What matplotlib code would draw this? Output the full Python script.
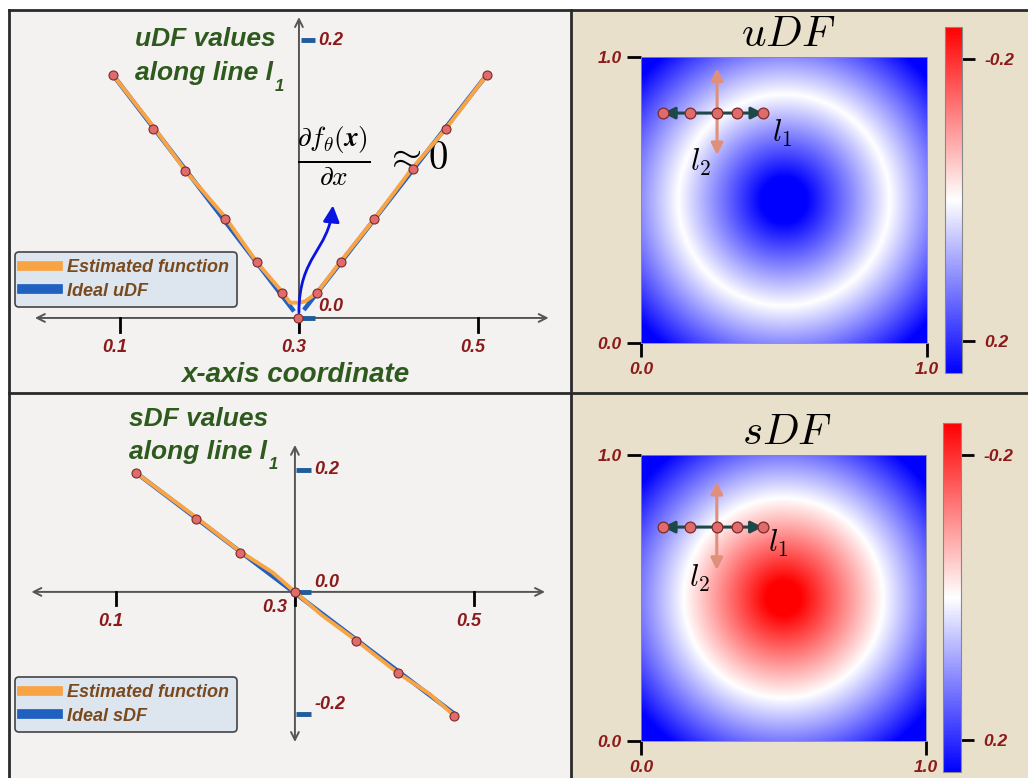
import numpy as np
import matplotlib.pyplot as plt
import matplotlib as mpl
from matplotlib.path import Path
from matplotlib.patches import FancyArrowPatch, Rectangle
from matplotlib.lines import Line2D

plt.rcParams['font.family'] = ['Liberation Sans', 'DejaVu Sans']
plt.rcParams['mathtext.fontset'] = 'cm'

# --- datos: uDF a lo largo de la linea l1 ---
u_pts_x = [0.092, 0.137, 0.173, 0.217, 0.253, 0.281, 0.299, 0.320, 0.347, 0.384, 0.427, 0.464, 0.510]
u_pts_y = [0.175, 0.136, 0.106, 0.071, 0.040, 0.018, 0.000, 0.018, 0.040, 0.071, 0.107, 0.136, 0.175]
u_est_x = [0.092, 0.137, 0.173, 0.217, 0.253, 0.281, 0.290, 0.301, 0.307, 0.320, 0.347, 0.384, 0.427, 0.464, 0.510]
u_est_y = [0.175, 0.138, 0.106, 0.073, 0.040, 0.019, 0.011, 0.011, 0.012, 0.018, 0.041, 0.071, 0.108, 0.136, 0.175]
u_ideal_lx = [0.092, 0.293]
u_ideal_ly = [0.175, 0.006]
u_ideal_rx = [0.307, 0.510]
u_ideal_ry = [0.007, 0.175]

# --- datos: sDF a lo largo de la linea l1 ---
s_pts_x = [0.123, 0.190, 0.239, 0.300, 0.368, 0.415, 0.478]
s_pts_y = [0.195, 0.120, 0.064, 0.000, -0.080, -0.133, -0.203]
s_est_x = [0.123, 0.190, 0.239, 0.275, 0.300, 0.330, 0.368, 0.415, 0.450, 0.478]
s_est_y = [0.195, 0.122, 0.066, 0.032, 0.000, -0.038, -0.079, -0.133, -0.167, -0.203]
s_ideal_x = [0.123, 0.478]
s_ideal_y = [0.195, -0.200]

x_ticks = [0.1, 0.3, 0.5]
x_tick_labels = ['0.1', '0.3', '0.5']

# --- mapas de distancia (circulo) ---
center = (0.5, 0.5)
u_radius = 0.37
s_radius = 0.35
l1_x = [0.077, 0.171, 0.266, 0.336, 0.427]
cbar_ticks = [-0.2, 0.2]
vlim = 0.245      # rango de la barra de color
vlim_img = 0.29   # rango usado para pintar el mapa (mas suave)

# --- colores ---
C_EST = '#f9a444'
C_IDEAL = '#2060c0'
C_PT = '#e06b6b'
C_PT_EDGE = '#7a2a2a'
C_TICK = '#8b1a1a'
C_TITLE = '#2e5a1e'
C_LEG = '#7a4a1e'
C_LEFT_BG = '#f4f1f1'
C_RIGHT_BG = '#e9e0cb'

W, H = 1028, 778


def fig_box(x0, y0, x1, y1):
    return [x0 / W, 1 - y1 / H, (x1 - x0) / W, (y1 - y0) / H]


tick_kw = dict(color=C_TICK, fontsize=13, fontweight='bold', fontstyle='italic')
title_kw = dict(color=C_TITLE, fontsize=19, fontweight='bold', fontstyle='italic')

fig = plt.figure(figsize=(W / 100, H / 100), dpi=100, facecolor='white')

# fondos de los paneles
for (x0, y0, x1, y1, c) in [(9, 10, 571, 393, C_LEFT_BG), (9, 393, 571, 778, C_LEFT_BG),
                            (571, 10, 1028, 393, C_RIGHT_BG), (571, 393, 1028, 778, C_RIGHT_BG)]:
    b = fig_box(x0, y0, x1, y1)
    fig.add_artist(Rectangle((b[0], b[1]), b[2], b[3], transform=fig.transFigure,
                             facecolor=c, edgecolor='none', zorder=0))
for (xs, ys) in [([9, 1028], [10, 10]), ([9, 9], [10, 778]), ([571, 571], [10, 778]), ([9, 1028], [393, 393])]:
    fig.add_artist(Line2D([x / W for x in xs], [1 - y / H for y in ys], transform=fig.transFigure,
                          color='#2a2a2a', lw=2, zorder=1))


def line_panel(ax, kind):
    # ejes con flechas
    arr = dict(color='#555555', lw=1.4, shrinkA=0, shrinkB=0, mutation_scale=14)
    if kind == 'u':
        ax.annotate('', xy=(0.579, 0), xytext=(0.005, 0), arrowprops=dict(arrowstyle='<->', **arr))
        ax.annotate('', xy=(0.3, 0.2165), xytext=(0.3, -0.011), arrowprops=dict(arrowstyle='->', **arr))
        tick_len = 0.010
        lab_y = -0.021
    else:
        ax.annotate('', xy=(0.579, 0), xytext=(0.006, 0), arrowprops=dict(arrowstyle='<->', **arr))
        ax.annotate('', xy=(0.3, 0.241), xytext=(0.3, -0.246), arrowprops=dict(arrowstyle='<->', **arr))
        tick_len = 0.022
        lab_y = -0.049
    for xv, lab in zip(x_ticks, x_tick_labels):
        ax.plot([xv, xv], [0, -tick_len], color='black', lw=2, zorder=3)
        if kind == 's' and lab == '0.3':
            ax.text(0.277, -0.026, lab, ha='center', va='center', **tick_kw)
        else:
            ax.text(xv - 0.006, lab_y, lab, ha='center', va='center', **tick_kw)


# --- panel superior izquierdo: uDF ---
ax1 = fig.add_axes(fig_box(9, 10, 571, 393))
ax1.set_xlim(-0.024, 0.604)
ax1.set_ylim(-0.054, 0.2216)
ax1.axis('off')
line_panel(ax1, 'u')
for yv, lab, ly in [(0.2, '0.2', 0.2), (0.0, '0.0', 0.008)]:
    ax1.plot([0.302, 0.318], [yv, yv], color='#1f5c99', lw=3.5, solid_capstyle='butt', zorder=3)
    ax1.text(0.322, ly, lab, ha='left', va='center', **tick_kw)
ax1.plot(u_ideal_lx, u_ideal_ly, color=C_IDEAL, lw=3.2, zorder=4)
ax1.plot(u_ideal_rx, u_ideal_ry, color=C_IDEAL, lw=3.2, zorder=4)
ax1.plot(u_est_x, u_est_y, color=C_EST, lw=2.8, zorder=5)
ax1.scatter(u_pts_x, u_pts_y, s=42, color=C_PT, edgecolor=C_PT_EDGE, linewidth=0.8, zorder=7)

# flecha de la derivada
verts = [(0.3, 0.004), (0.3, 0.045), (0.333, 0.048), (0.338, 0.081)]
codes = [Path.MOVETO, Path.CURVE4, Path.CURVE4, Path.CURVE4]
ax1.add_patch(FancyArrowPatch(path=Path(verts, codes), arrowstyle='-|>,head_length=0.7,head_width=0.35',
                              mutation_scale=14, color='#0a14e0', lw=2.0, zorder=6))
ax1.text(0.382, 0.117, r'$\frac{\partial f_\theta(\boldsymbol{x})}{\partial x}\ \approx 0$',
         ha='center', va='center', fontsize=28, color='black')

ax1.text(0.117, 0.2005, 'uDF values', ha='left', va='center', **title_kw)
t2 = ax1.text(0.117, 0.1765, 'along line l', ha='left', va='center', **title_kw)
ax1.annotate('1', xy=(1, 0), xycoords=t2, xytext=(1, -1), textcoords='offset points',
             ha='left', va='center', color=C_TITLE, fontsize=12, fontweight='bold', fontstyle='italic')
ax1.text(0.2955, -0.041, 'x-axis coordinate', ha='center', va='center', **dict(title_kw, fontsize=20))

leg_handles = [Line2D([], [], color=C_EST, lw=7), Line2D([], [], color=C_IDEAL, lw=7)]
leg_kw = dict(loc='upper left', bbox_transform=fig.transFigure, borderaxespad=0,
              prop=dict(family='Liberation Sans', weight='bold', style='italic', size=13),
              labelcolor=C_LEG, facecolor='#dde6ef', edgecolor='#444444', framealpha=1, fancybox=True,
              handlelength=2.0, handletextpad=0.5, labelspacing=0.35, borderpad=0.4)
leg1 = ax1.legend(leg_handles, ['Estimated function', 'Ideal uDF'], bbox_to_anchor=(15 / W, 1 - 252 / H), **leg_kw)
leg1.get_frame().set_linewidth(1.2)

# --- panel inferior izquierdo: sDF ---
ax2 = fig.add_axes(fig_box(9, 393, 571, 778))
ax2.set_xlim(-0.019, 0.608)
ax2.set_ylim(-0.305, 0.326)
ax2.axis('off')
line_panel(ax2, 's')
for yv, lab, ly in [(0.2, '0.2', 0.2), (0.0, '0.0', 0.015), (-0.2, '-0.2', -0.184)]:
    ax2.plot([0.301, 0.318], [yv, yv], color='#1f5c99', lw=3.5, solid_capstyle='butt', zorder=3)
    ax2.text(0.322, ly, lab, ha='left', va='center', **tick_kw)
ax2.plot(s_ideal_x, s_ideal_y, color=C_IDEAL, lw=3.2, zorder=4)
ax2.plot(s_est_x, s_est_y, color=C_EST, lw=2.8, zorder=5)
ax2.scatter(s_pts_x, s_pts_y, s=42, color=C_PT, edgecolor=C_PT_EDGE, linewidth=0.8, zorder=7)

ax2.text(0.115, 0.284, 'sDF values', ha='left', va='center', **title_kw)
t4 = ax2.text(0.115, 0.230, 'along line l', ha='left', va='center', **title_kw)
ax2.annotate('1', xy=(1, 0), xycoords=t4, xytext=(1, -1), textcoords='offset points',
             ha='left', va='center', color=C_TITLE, fontsize=12, fontweight='bold', fontstyle='italic')
leg2 = ax2.legend(leg_handles, ['Estimated function', 'Ideal sDF'], bbox_to_anchor=(15 / W, 1 - 677 / H), **leg_kw)
leg2.get_frame().set_linewidth(1.2)

# --- mapas de calor ---
grid = np.linspace(0, 1, 500)
xx, yy = np.meshgrid(grid, grid)
rr = np.hypot(xx - center[0], yy - center[1])
udf = np.abs(rr - u_radius)
sdf = rr - s_radius

panels = [
    (udf, r'$uDF$', (641, 57, 927, 343), (945, 27, 962, 373), 0.804, (0.657, 0.96), (0.493, 0.734), (0.206, 0.633)),
    (sdf, r'$sDF$', (641, 455, 926, 741), (943, 423, 961, 772), 0.748, (0.598, 0.906), (0.48, 0.69), (0.206, 0.57)),
]
for field, title, hbox, cbox, l1_y, l2_span, l1_pos, l2_pos in panels:
    ax = fig.add_axes(fig_box(*hbox))
    ax.imshow(field, extent=[0, 1, 0, 1], origin='lower', cmap='bwr_r', vmin=-vlim_img, vmax=vlim_img,
              interpolation='bilinear', aspect='auto')
    ax.set_xlim(0, 1)
    ax.set_ylim(0, 1)
    ax.set_xticks([0, 1])
    ax.set_yticks([0, 1])
    ax.set_xticklabels(['0.0', '1.0'])
    ax.set_yticklabels(['0.0', '1.0'])
    ax.tick_params(length=10, width=2, color='black', pad=4, labelsize=12.5, labelcolor=C_TICK)
    for lbl in ax.get_xticklabels() + ax.get_yticklabels():
        lbl.set_fontweight('bold')
        lbl.set_fontstyle('italic')
    for sp in ax.spines.values():
        sp.set_linewidth(0.6)
        sp.set_color('#8888aa')
    ax.text(0.514, 1.078, title, transform=ax.transAxes, ha='center', va='center', fontsize=31)

    # lineas l1 y l2
    ax.annotate('', xy=(l1_x[2], l2_span[1]), xytext=(l1_x[2], l2_span[0]),
                arrowprops=dict(arrowstyle='<|-|>,head_length=0.5,head_width=0.25', color='#e0907a', lw=2.2,
                                shrinkA=0, shrinkB=0, mutation_scale=14))
    ax.annotate('', xy=(l1_x[-1], l1_y), xytext=(l1_x[0], l1_y),
                arrowprops=dict(arrowstyle='<|-|>,head_length=0.5,head_width=0.25', color='#1c4848', lw=2.2,
                                shrinkA=0, shrinkB=0, mutation_scale=14))
    ax.scatter(l1_x, [l1_y] * len(l1_x), s=60, color=C_PT, edgecolor=C_PT_EDGE, linewidth=0.9, zorder=5)
    ax.text(l1_pos[0], l1_pos[1], r'$l_1$', ha='center', va='center', fontsize=22)
    ax.text(l2_pos[0], l2_pos[1], r'$l_2$', ha='center', va='center', fontsize=22)

    cax = fig.add_axes(fig_box(*cbox))
    sm = mpl.cm.ScalarMappable(norm=mpl.colors.Normalize(-vlim, vlim), cmap='bwr_r')
    cb = fig.colorbar(sm, cax=cax, ticks=cbar_ticks)
    cax.invert_yaxis()
    cb.ax.set_yticklabels(['-0.2', '0.2'])
    cb.ax.tick_params(length=9, width=2, color='black', pad=7, labelsize=12.5, labelcolor=C_TICK)
    for lbl in cb.ax.get_yticklabels():
        lbl.set_fontweight('bold')
        lbl.set_fontstyle('italic')
    cb.outline.set_edgecolor('#888888')
    cb.outline.set_linewidth(0.8)

fig.savefig('out.png', dpi=100)
